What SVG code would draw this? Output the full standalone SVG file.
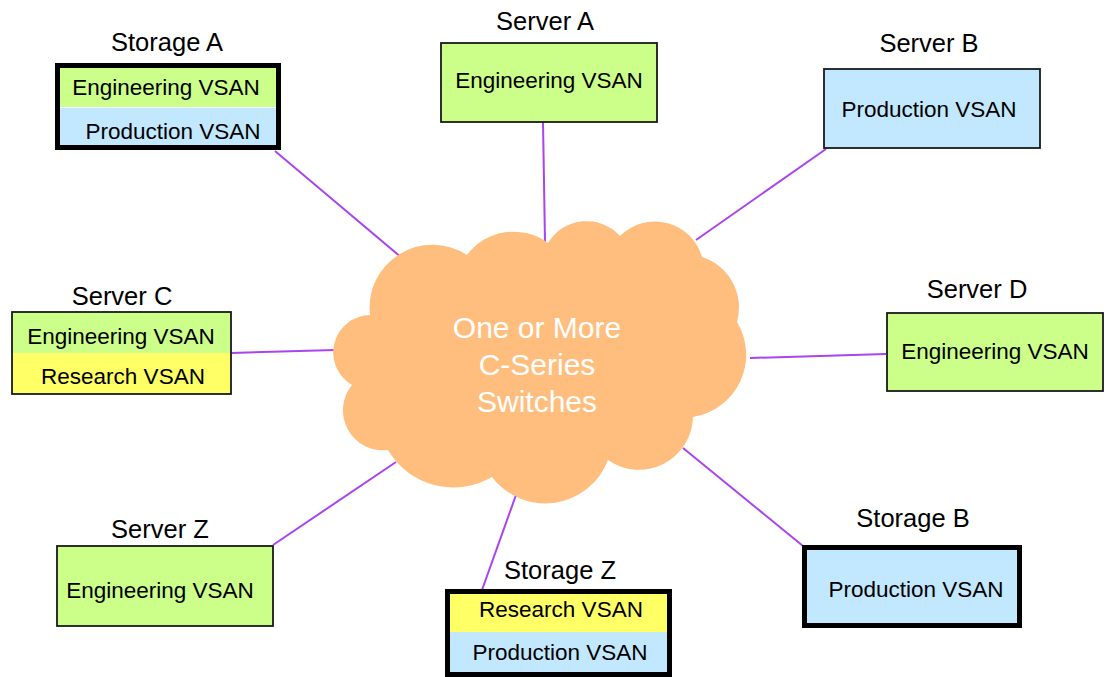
<svg xmlns="http://www.w3.org/2000/svg" width="1106" height="677" viewBox="0 0 1106 677">
  <style>
    .title { font-family: "Liberation Sans", Arial, sans-serif; font-size: 25.5px; fill: #000; text-anchor: middle; }
    .lbl { font-family: "Liberation Sans", Arial, sans-serif; font-size: 22.5px; fill: #000; text-anchor: middle; }
    .cloudtxt { font-family: "Liberation Sans", Arial, sans-serif; font-size: 30px; fill: #fff; text-anchor: middle; }
    .thin { stroke: #1a1a1a; stroke-width: 1.8; }
    .thick { fill: none; stroke: #000; stroke-width: 5; }
    .eng { fill: #CCFF8A; }
    .prod { fill: #C2E8FF; }
    .res { fill: #FFFF66; }
    .link { stroke: #AA44EE; stroke-width: 2; fill: none; }
  </style>

  <rect width="1106" height="677" fill="#fff"/>

  <!-- connectors from each node to the switch cloud -->
  <g id="connectors">
    <line class="link" x1="275" y1="151" x2="402" y2="258"/>
    <line class="link" x1="543" y1="122" x2="545" y2="242"/>
    <line class="link" x1="826" y1="149" x2="696" y2="240"/>
    <line class="link" x1="231" y1="353" x2="335" y2="350"/>
    <line class="link" x1="750" y1="358" x2="886" y2="354"/>
    <line class="link" x1="273" y1="545" x2="396" y2="462"/>
    <line class="link" x1="482" y1="590" x2="516" y2="495"/>
    <line class="link" x1="803" y1="546" x2="683" y2="448"/>
  </g>

  <!-- switch fabric cloud -->
  <g id="cloud">
    <path fill="#FFBE7E" d="M370,315 A63,63 0 0 1 467,255 A58,58 0 0 1 548,243 A45,45 0 0 1 620,236 A49,49 0 0 1 702,257 A53,53 0 0 1 737,322 A63,63 0 0 1 693,417 A54,54 0 0 1 608,460 A67,67 0 0 1 492,477 A76,76 0 0 1 388,450 A40,40 0 0 1 352,385 A37.5,37.5 0 0 1 370,315 Z"/>
    <text class="cloudtxt" x="537" y="338">One or More</text>
    <text class="cloudtxt" x="537" y="375">C-Series</text>
    <text class="cloudtxt" x="537" y="412">Switches</text>
  </g>

  <g id="storage-a">
    <text class="title" x="167" y="51">Storage A</text>
    <rect class="eng" x="60" y="68" width="216" height="39"/>
    <rect class="prod" x="60" y="108" width="216" height="37"/>
    <rect class="thick" x="57.5" y="65.5" width="221" height="82"/>
    <text class="lbl" x="166" y="95">Engineering VSAN</text>
    <text class="lbl" x="173" y="139">Production VSAN</text>
  </g>

  <g id="server-a">
    <text class="title" x="545" y="30">Server A</text>
    <rect class="eng thin" x="441" y="43" width="216" height="79"/>
    <text class="lbl" x="549" y="88">Engineering VSAN</text>
  </g>

  <g id="server-b">
    <text class="title" x="929" y="52">Server B</text>
    <rect class="prod thin" x="824" y="69" width="216" height="79"/>
    <text class="lbl" x="929" y="117">Production VSAN</text>
  </g>

  <g id="server-c">
    <text class="title" x="122" y="305">Server C</text>
    <rect class="eng" x="12" y="312" width="219" height="41"/>
    <rect class="res" x="12" y="353" width="219" height="41"/>
    <rect class="thin" fill="none" x="12" y="312" width="219" height="82"/>
    <text class="lbl" x="121" y="344">Engineering VSAN</text>
    <text class="lbl" x="123" y="384">Research VSAN</text>
  </g>

  <g id="server-d">
    <text class="title" x="977" y="298">Server D</text>
    <rect class="eng thin" x="887" y="313" width="216" height="78"/>
    <text class="lbl" x="995" y="359">Engineering VSAN</text>
  </g>

  <g id="server-z">
    <text class="title" x="160" y="538">Server Z</text>
    <rect class="eng thin" x="57" y="546" width="216" height="80"/>
    <text class="lbl" x="160" y="598">Engineering VSAN</text>
  </g>

  <g id="storage-z">
    <text class="title" x="560" y="579">Storage Z</text>
    <rect class="res" x="450" y="594" width="217" height="38"/>
    <rect class="prod" x="450" y="632" width="217" height="40"/>
    <rect class="thick" x="447.5" y="591.5" width="222" height="83"/>
    <text class="lbl" x="561" y="617">Research VSAN</text>
    <text class="lbl" x="560" y="660">Production VSAN</text>
  </g>

  <g id="storage-b">
    <text class="title" x="913" y="527">Storage B</text>
    <rect class="prod" x="805" y="548" width="214" height="77"/>
    <rect class="thick" x="804.5" y="547.5" width="215" height="78"/>
    <text class="lbl" x="916" y="597">Production VSAN</text>
  </g>
</svg>
